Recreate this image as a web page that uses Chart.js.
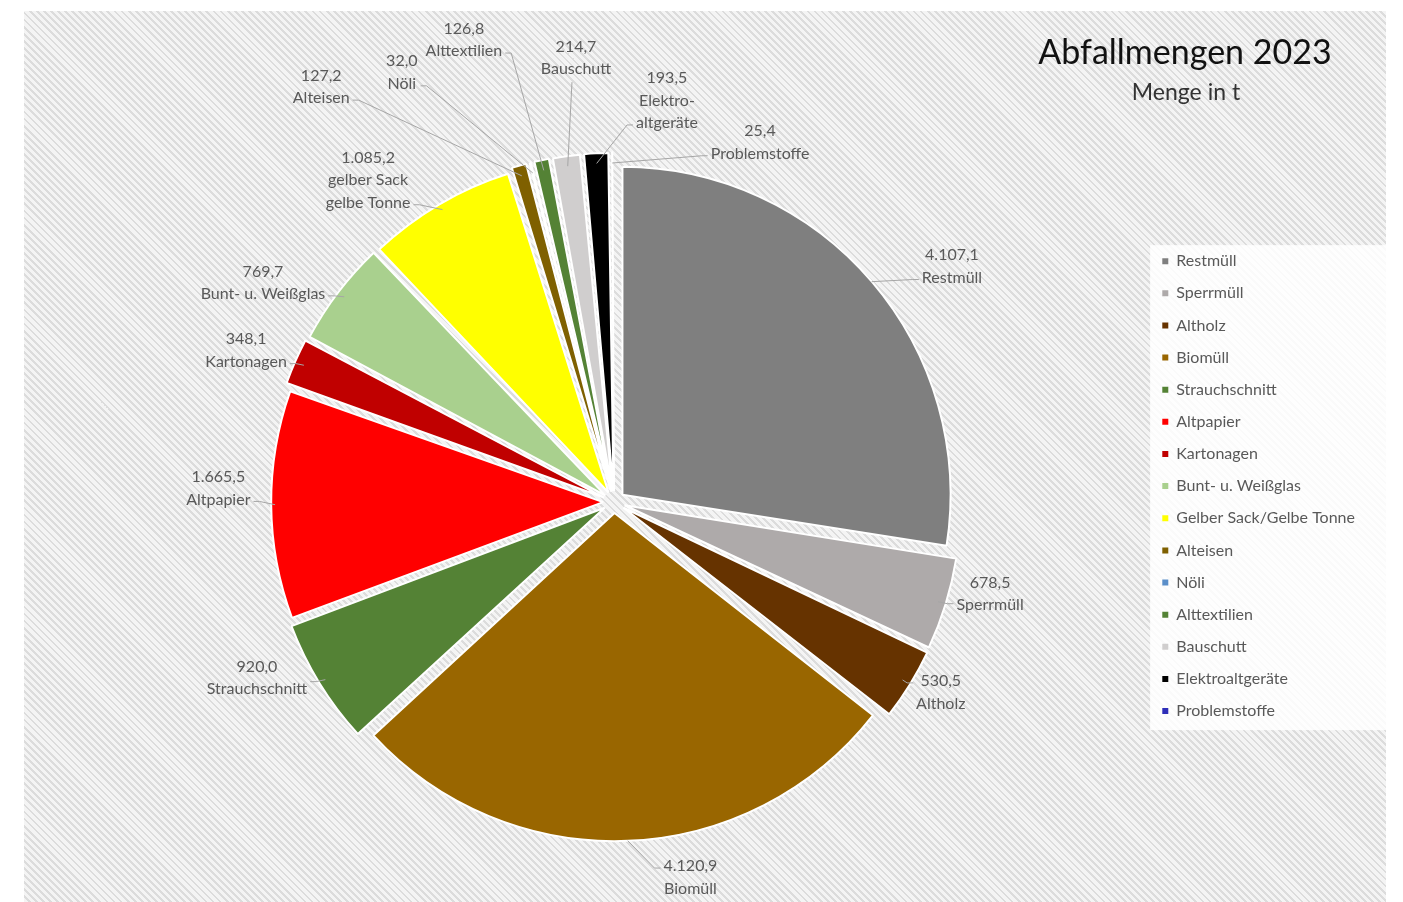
<!DOCTYPE html>
<html lang="de">
<head>
    <meta charset="UTF-8">
    <title>Abfallmengen 2023</title>
    <script src="https://cdn.jsdelivr.net/npm/chart.js"></script>
    <style>
        html, body { margin: 0; padding: 0; background: #fff; }
        #wrap { position: relative; width: 1403px; height: 902px; overflow: hidden; }
        #hatch {
            position: absolute; left: 24px; top: 11px; width: 1362px; height: 891px;
            background: repeating-linear-gradient(45deg, #f4f4f4 0px, #f4f4f4 3px, #dcdcdc 3px, #dcdcdc 5px);
        }
        #abfallChart { position: absolute; left: 0; top: 0; }
    </style>
</head>
<body>
<div id="wrap">
    <div id="hatch"></div>
    <canvas id="abfallChart" width="1403" height="902"></canvas>
</div>

<script>
    // values in t, clockwise from 12 o'clock
    const categories = ['Restmüll', 'Sperrmüll', 'Altholz', 'Biomüll', 'Strauchschnitt', 'Altpapier',
        'Kartonagen', 'Bunt- u. Weißglas', 'Gelber Sack/Gelbe Tonne', 'Alteisen', 'Nöli',
        'Alttextilien', 'Bauschutt', 'Elektroaltgeräte', 'Problemstoffe'];
    const amounts = [4107.1, 678.5, 530.5, 4120.9, 920.0, 1665.5, 348.1, 769.7, 1085.2,
        127.2, 32.0, 126.8, 214.7, 193.5, 25.4];
    // names as written next to the slices
    const labelNames = ['Restmüll', 'Sperrmüll', 'Altholz', 'Biomüll', 'Strauchschnitt', 'Altpapier',
        'Kartonagen', 'Bunt- u. Weißglas', 'gelber Sack\ngelbe Tonne', 'Alteisen', 'Nöli',
        'Alttextilien', 'Bauschutt', 'Elektro-\naltgeräte', 'Problemstoffe'];
    const sliceColors = ['#7f7f7f', '#aeaaaa', '#663300', '#996600', '#548235', '#ff0000',
        '#c00000', '#a9d08e', '#ffff00', '#7f6000', '#5b8fc9', '#548235', '#d0cece',
        '#000000', '#2e2eb8'];
    // where each data label sits: [angle from top in degrees, distance from pie centre]
    const labelPlacement = [[55.1, 412], [103.7, 387], [120.2, 378], [168.5, 383], [243.8, 398],
        [272, 396], [292.4, 398], [302, 414], [322.6, 405], [324.8, 508], [333.7, 479],
        [342, 486], [355.1, 446], [7.5, 405], [22.1, 388]];

    const FONT = 'Lato, "Noto Sans", sans-serif';
    const TEXT_GREY = '#595959';

    function fmt(v) {
        const parts = v.toFixed(1).split('.');
        return parts[0].replace(/\B(?=(\d{3})+(?!\d))/g, '.') + ',' + parts[1];
    }

    // white panel behind the legend + title text
    const framePlugin = {
        id: 'frame',
        beforeDraw(chart) {
            const boxes = chart.legend.legendHitBoxes;
            if (!boxes || !boxes.length) return;
            const ctx = chart.ctx;
            const last = boxes[boxes.length - 1];
            const top = boxes[0].top - 8;
            const bottom = last.top + last.height + 11;
            ctx.save();
            ctx.fillStyle = 'rgba(255,255,255,0.85)';
            ctx.fillRect(chart.legend.left + 4, top, 1386 - chart.legend.left - 4, bottom - top);
            ctx.restore();
        },
        afterDraw(chart) {
            const ctx = chart.ctx;
            ctx.save();
            ctx.textAlign = 'center';
            ctx.textBaseline = 'alphabetic';
            ctx.fillStyle = '#111111';
            ctx.font = '34px ' + FONT;
            ctx.fillText('Abfallmengen 2023', 1185, 64);
            ctx.fillStyle = '#333333';
            ctx.font = '23px ' + FONT;
            ctx.fillText('Menge in t', 1186, 100);
            ctx.restore();
        }
    };

    // Excel-like data labels with leader lines
    const labelPlugin = {
        id: 'sliceLabels',
        afterDatasetsDraw(chart) {
            const ctx = chart.ctx;
            const arcs = chart.getDatasetMeta(0).data;
            const shift = chart.data.datasets[0].offset / 4;
            const lh = 22.5;
            ctx.save();
            ctx.font = '16px ' + FONT;
            ctx.textAlign = 'center';
            ctx.textBaseline = 'middle';
            arcs.forEach((arc, i) => {
                const p = arc.getProps(['x', 'y', 'startAngle', 'endAngle', 'outerRadius'], true);
                const mid = (p.startAngle + p.endAngle) / 2;
                const ax = p.x + Math.cos(mid) * (p.outerRadius + shift);
                const ay = p.y + Math.sin(mid) * (p.outerRadius + shift);
                const a = (labelPlacement[i][0] - 90) * Math.PI / 180;
                const lx = p.x + Math.cos(a) * labelPlacement[i][1];
                const ly = p.y + Math.sin(a) * labelPlacement[i][1];
                const lines = [fmt(amounts[i])].concat(labelNames[i].split('\n'));
                const w = Math.max(...lines.map(t => ctx.measureText(t).width));
                const top = ly - lines.length * lh / 2;

                ctx.strokeStyle = '#a6a6a6';
                ctx.lineWidth = 1;
                ctx.beginPath();
                ctx.moveTo(ax, ay);
                if (Math.abs(lx - ax) < w / 2) {
                    ctx.lineTo(lx - 4, top + lines.length * lh + 2);
                } else {
                    const side = lx > ax ? -1 : 1;
                    const px = lx + side * (w / 2 + 3);
                    const py = Math.min(Math.max(ay, top + lh / 2), top + lines.length * lh - lh / 2);
                    ctx.lineTo(px + side * 6, py + 2);
                    ctx.lineTo(px, py + 2);
                }
                ctx.stroke();

                ctx.fillStyle = TEXT_GREY;
                lines.forEach((t, k) => ctx.fillText(t, lx, top + lh * (k + 0.5)));
            });
            ctx.restore();
        }
    };

    const ctx = document.getElementById('abfallChart').getContext('2d');
    new Chart(ctx, {
        type: 'pie',
        data: {
            labels: categories,
            datasets: [{
                data: amounts,
                backgroundColor: sliceColors,
                borderColor: '#ffffff',
                borderWidth: 2,
                offset: 44,
                hoverOffset: 0,
                clip: false
            }]
        },
        options: {
            responsive: false,
            animation: false,
            radius: 328,
            layout: {
                padding: { left: 82, right: 38, top: 237, bottom: 135 }
            },
            plugins: {
                legend: {
                    position: 'right',
                    align: 'start',
                    labels: {
                        boxWidth: 6,
                        boxHeight: 6,
                        padding: 16.14,
                        color: TEXT_GREY,
                        font: { family: FONT, size: 16 },
                        generateLabels: () => categories.map((c, i) => ({
                            text: c,
                            fillStyle: sliceColors[i],
                            strokeStyle: sliceColors[i],
                            lineWidth: 0,
                            fontColor: TEXT_GREY,
                            hidden: false,
                            index: i
                        }))
                    }
                },
                tooltip: { enabled: false }
            }
        },
        plugins: [framePlugin, labelPlugin]
    });
</script>
</body>
</html>
